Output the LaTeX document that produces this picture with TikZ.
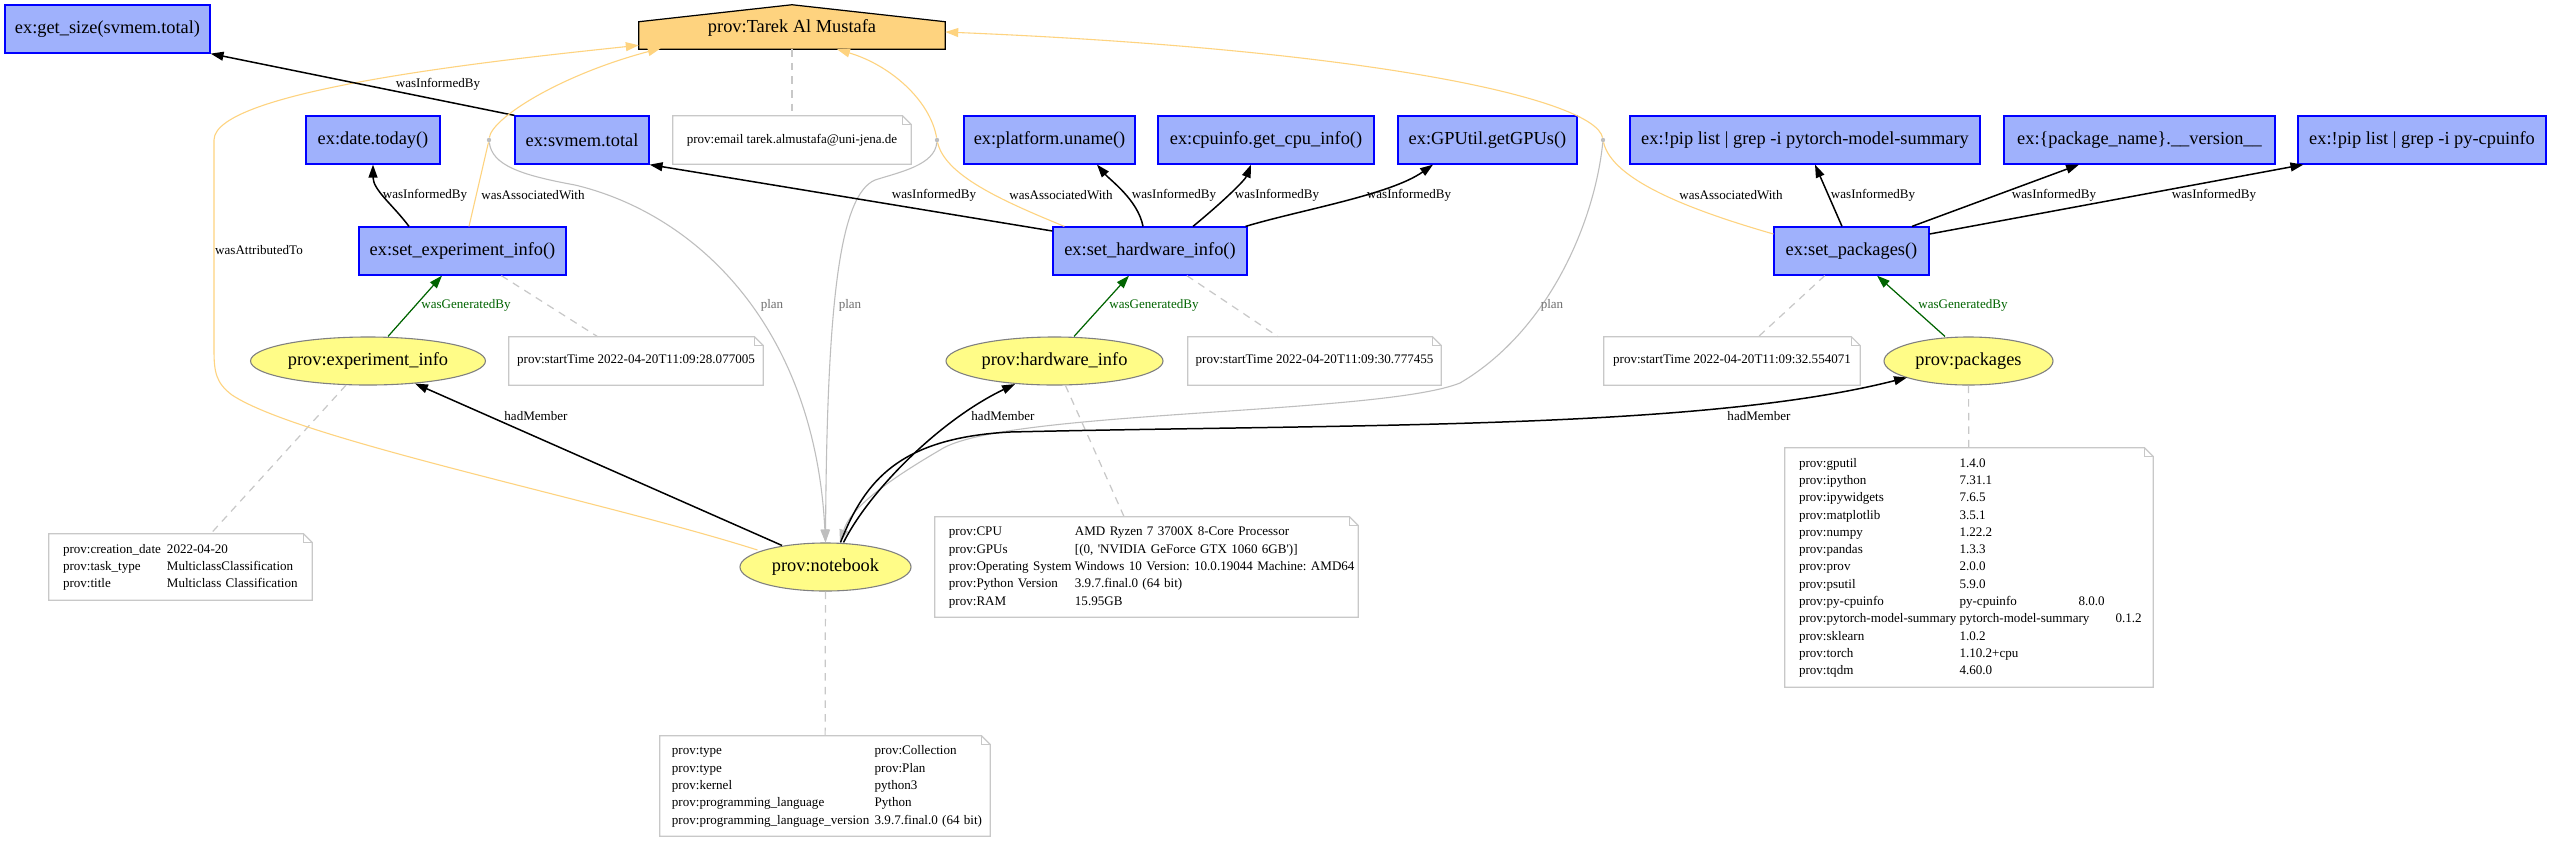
\documentclass[tikz,border=0pt]{standalone}
\usepackage{fontspec}
\setmainfont{Liberation Serif}
\usetikzlibrary{arrows.meta,calc,shapes.geometric,backgrounds}
\frenchspacing
\definecolor{actfill}{HTML}{9FB1FC}
\definecolor{actline}{HTML}{0000FF}
\definecolor{entfill}{HTML}{FFFC87}
\definecolor{entline}{HTML}{808080}
\definecolor{agtfill}{HTML}{FED37F}
\definecolor{assoc}{HTML}{FED37F}
\definecolor{gen}{HTML}{006400}
\definecolor{notegray}{HTML}{C8C8C8}
\definecolor{plangray}{HTML}{BEBEBE}
\definecolor{plantext}{HTML}{707070}
\newcommand{\bigf}{\fontsize{13.5}{16}\selectfont}
\newcommand{\smallf}{\fontsize{9.6}{12.7}\selectfont}
\newcommand{\notefold}[1]{%
  \draw[notegray, line width=0.9pt] (#1.north west) -- ([xshift=-6.5pt]#1.north east) -- ([yshift=-6.5pt]#1.north east) -- (#1.south east) -- (#1.south west) -- cycle;
  \draw[notegray, line width=0.6pt] ([xshift=-6.5pt]#1.north east) |- ([yshift=-6.5pt]#1.north east);}
\tikzset{
  act/.style={draw=actline, fill=actfill, line width=0.9pt, minimum height=35.3pt, inner sep=1pt, font=\bigf},
  ent/.style={ellipse, draw=entline, fill=entfill, line width=0.8pt, minimum height=35.3pt, inner sep=0pt, font=\bigf},
  notebox/.style={inner sep=0pt, font=\smallf, minimum height=35.3pt},
  tablebox/.style={inner ysep=0pt, font=\smallf, align=left},
  dot/.style={circle, fill=plangray, inner sep=0pt, minimum size=3.2pt},
  lbl/.style={font=\smallf, inner sep=1pt, text=black},
  tip/.style={-{Triangle[length=9.5pt,width=6.5pt]}},
  inf/.style={black, line width=1.1pt, tip},
  assocl/.style={assoc, line width=0.8pt},
  assoca/.style={assoc, line width=0.8pt, tip},
  planl/.style={plangray, line width=0.8pt, tip},
  genl/.style={gen, line width=0.9pt, tip},
  annot/.style={notegray, line width=0.9pt, dash pattern=on 5.5pt off 4.5pt},
}
\begin{document}
\begin{tikzpicture}[x=0.735pt, y=-0.735pt]
\useasboundingbox (0,0) rectangle (2551,841);

% activities
\node[act, minimum width=150.7pt] (getsize) at (107.5,29) {ex:get\_size(svmem.total)};
\node[act, minimum width=98.5pt] (datetoday) at (373,140) {ex:date.today()};
\node[act, minimum width=98.5pt] (svmem) at (582,140) {ex:svmem.total};
\node[act, minimum width=125.7pt] (platform) at (1049.5,140) {ex:platform.uname()};
\node[act, minimum width=158.8pt] (cpuinfo) at (1266,140) {ex:cpuinfo.get\_cpu\_info()};
\node[act, minimum width=131.6pt] (gpus) at (1487.5,140) {ex:GPUtil.getGPUs()};
\node[act, minimum width=257.3pt] (pytorch) at (1805,140) {ex:!pip list | grep -i pytorch-model-summary};
\node[act, minimum width=199.2pt] (pkgname) at (2139.5,140) {ex:\{package\_name\}.\_\_version\_\_};
\node[act, minimum width=182.3pt] (pipcpu) at (2422,140) {ex:!pip list | grep -i py-cpuinfo};
\node[act, minimum width=152.1pt] (setexp) at (462.5,251) {ex:set\_experiment\_info()};
\node[act, minimum width=142.6pt] (sethw) at (1150,251) {ex:set\_hardware\_info()};
\node[act, minimum width=113.9pt] (setpkg) at (1851.5,251) {ex:set\_packages()};

% entities
\node[ent, minimum width=172.7pt] (expinfo) at (368,361) {prov:experiment\_info};
\node[ent, minimum width=159.5pt] (hwinfo) at (1054.5,361) {prov:hardware\_info};
\node[ent, minimum width=124.2pt] (pkginfo) at (1968.5,361) {prov:packages};
\node[ent, minimum width=125.7pt] (notebook) at (825.5,567) {prov:notebook};

% agent
\node[font=\bigf, minimum width=224.9pt, minimum height=30.87pt, inner sep=0pt] (tarek) at (792,28) {prov:Tarek Al Mustafa};
\begin{pgfonlayer}{background}
\fill[white] (0,0) rectangle (2551,841);
\filldraw[fill=agtfill, draw=black, line width=0.9pt] (tarek.south west) -- ($(tarek.north west)+(0,15)$) -- ($(tarek.north)+(0,-2)$) -- ($(tarek.north east)+(0,15)$) -- (tarek.south east) -- cycle;
\end{pgfonlayer}

% association points
\node[dot] (p1) at (489,140) {};
\node[dot] (p2) at (937,140) {};
\node[dot] (p3) at (1603,140) {};

% notes
\node[notebox, minimum width=175pt] (email) at (792,140) {prov:email tarek.almustafa@uni-jena.de};
\node[notebox, minimum width=186.7pt] (note1) at (636,361) {prov:startTime 2022-04-20T11:09:28.077005};
\node[notebox, minimum width=186pt] (note2) at (1314.5,361) {prov:startTime 2022-04-20T11:09:30.777455};
\node[notebox, minimum width=188pt] (note3) at (1732,361) {prov:startTime 2022-04-20T11:09:32.554071};

\node[tablebox, text width=172.7pt, inner xsep=10.3pt, minimum height=48.5pt] (exptable) at (180.5,567) {%
\begin{tabular}{@{}p{76.4pt}@{}l@{}}
prov:creation\_date & 2022-04-20\\
prov:task\_type & MulticlassClassification\\
prov:title & Multiclass Classification
\end{tabular}};

\node[tablebox, text width=290.4pt, inner xsep=10.3pt, minimum height=73.5pt] (hwtable) at (1146.5,567) {%
\begin{tabular}{@{}p{92.6pt}@{}l@{}}
prov:CPU & AMD Ryzen 7 3700X 8-Core Processor\\
prov:GPUs & [(0, \textquotesingle NVIDIA GeForce GTX 1060 6GB\textquotesingle)]\\
prov:Operating System & Windows 10 Version: 10.0.19044 Machine: AMD64\\
prov:Python Version & 3.9.7.final.0 (64 bit)\\
prov:RAM & 15.95GB
\end{tabular}};

\node[tablebox, text width=225pt, inner xsep=8.8pt, minimum height=73.5pt] (nbtable) at (825,786) {%
\begin{tabular}{@{}p{149pt}@{}l@{}}
prov:type & prov:Collection\\
prov:type & prov:Plan\\
prov:kernel & python3\\
prov:programming\_language & Python\\
prov:programming\_language\_version & 3.9.7.final.0 (64 bit)
\end{tabular}};

\node[tablebox, text width=249.9pt, inner xsep=10.3pt, minimum height=175.7pt] (pkgtable) at (1969,567.5) {%
\begin{tabular}{@{}p{118pt}@{}l@{}}
prov:gputil & 1.4.0\\
prov:ipython & 7.31.1\\
prov:ipywidgets & 7.6.5\\
prov:matplotlib & 3.5.1\\
prov:numpy & 1.22.2\\
prov:pandas & 1.3.3\\
prov:prov & 2.0.0\\
prov:psutil & 5.9.0\\
prov:py-cpuinfo & \makebox[87.5pt][l]{py-cpuinfo}8.0.0\\
prov:pytorch-model-summary & \makebox[114.7pt][l]{pytorch-model-summary}0.1.2\\
prov:sklearn & 1.0.2\\
prov:torch & 1.10.2+cpu\\
prov:tqdm & 4.60.0
\end{tabular}};

\foreach \n in {email,note1,note2,note3,exptable,hwtable,nbtable,pkgtable} {\notefold{\n}}

% annotation links
\draw[annot] (tarek) -- (email);
\draw[annot] (setexp) -- (note1);
\draw[annot] (sethw) -- (note2);
\draw[annot] (setpkg) -- (note3);
\draw[annot] (expinfo) -- (exptable);
\draw[annot] (hwinfo) -- (hwtable);
\draw[annot] (pkginfo) -- (pkgtable);
\draw[annot] (notebook) -- (nbtable);

% wasAttributedTo
\draw[assoca] ($(notebook.west)+(18,-17)$) .. controls (600,500) and (300,440) .. (232,395)
  .. controls (216,383) and (214,372) .. (214,350) -- (214,140)
  .. controls (214,90) and (500,60) .. ($(tarek.south west)+(0,-4)$)
  node[lbl] at (259,250) {wasAttributedTo};

% plan edges
\draw[planl] (p1) .. controls (492,165) and (520,175) .. (575,185)
  .. controls (700,215) and (815,330) .. (notebook.north)
  node[lbl, text=plantext] at (772,305) {plan};
\draw[planl] (p2) .. controls (935,165) and (900,172) .. (875,180)
  .. controls (840,195) and (827,300) .. (notebook.north)
  node[lbl, text=plantext] at (850,305) {plan};
\draw[planl] (p3) .. controls (1595,220) and (1550,330) .. (1460,383)
  .. controls (1380,415) and (1000,410) .. (940,450)
  .. controls (880,485) and (850,510) .. ($(notebook.north)+(14.5,0)$)
  node[lbl, text=plantext] at (1552,305) {plan};

% hadMember
\draw[inf] ($(notebook.north)+(-43.5,3)$) -- ($(expinfo.south)+(47,-2)$)
  node[lbl] at (536,416) {hadMember};
\draw[inf] ($(notebook.north)+(18,0)$) .. controls (870,490) and (940,420) .. ($(hwinfo.south)+(-39.5,-1.5)$)
  node[lbl] at (1003,416) {hadMember};
\draw[inf] ($(notebook.north)+(15,0)$) .. controls (865,480) and (900,438) .. (1010,432)
  .. controls (1350,424) and (1700,430) .. ($(pkginfo.center)+(-61.5,16.5)$)
  node[lbl] at (1759,416) {hadMember};

% experiment activity
\draw[inf] (svmem.north west) -- (getsize.south east) node[lbl] at (438,84) {wasInformedBy};
\draw[inf] ($(setexp.north)+(-53.5,0)$) .. controls (393,205) and (373,190) .. (datetoday.south)
  node[lbl] at (425,195) {wasInformedBy};
\draw[assocl] ($(setexp.north)+(6.5,0)$) -- (p1) node[lbl] at (533,195) {wasAssociatedWith};
\draw[assoca] (p1) .. controls (492,118) and (560,75) .. ($(tarek.south west)+(22,-1)$);
\draw[genl] ($(expinfo.north)+(20,0)$) -- ($(setexp.south)+(-20.5,0)$)
  node[lbl, text=gen] at (466,305) {wasGeneratedBy};

% hardware activity
\draw[inf] ($(sethw.west)+(0,-20)$) -- (svmem.south east) node[lbl] at (934,195) {wasInformedBy};
\draw[assocl] ($(sethw.north west)+(12,0)$) .. controls (1000,200) and (945,175) .. (p2)
  node[lbl] at (1061,195) {wasAssociatedWith};
\draw[assoca] (p2) .. controls (930,100) and (890,65) .. ($(tarek.south)+(45,0)$);
\draw[inf] ($(sethw.north)+(-7,0)$) .. controls (1138,200) and (1110,180) .. ($(platform.south)+(47.5,0)$)
  node[lbl] at (1174,195) {wasInformedBy};
\draw[inf] ($(sethw.north)+(43,0)$) .. controls (1225,200) and (1245,180) .. ($(cpuinfo.south)+(-15,0)$)
  node[lbl] at (1277,195) {wasInformedBy};
\draw[inf] ($(sethw.north east)+(-2,0)$) .. controls (1300,210) and (1390,195) .. ($(gpus.south)+(-54.5,0)$)
  node[lbl] at (1409,195) {wasInformedBy};
\draw[genl] ($(hwinfo.north)+(19.5,0)$) -- ($(sethw.south)+(-21,0)$)
  node[lbl, text=gen] at (1154,305) {wasGeneratedBy};

% packages activity
\draw[assocl] ($(setpkg.west)+(0,-17)$) .. controls (1690,210) and (1612,180) .. (p3)
  node[lbl] at (1731,195) {wasAssociatedWith};
\draw[assoca] (p3) .. controls (1595,100) and (1380,50) .. ($(tarek.east)+(0,4)$);
\draw[inf] ($(setpkg.north)+(-9.5,0)$) -- ($(pytorch.south)+(10,0)$)
  node[lbl] at (1873,195) {wasInformedBy};
\draw[inf] ($(setpkg.north)+(60.5,0)$) -- ($(pkgname.south)+(-60.5,0)$)
  node[lbl] at (2054,195) {wasInformedBy};
\draw[inf] ($(setpkg.east)+(0,-17)$) -- ($(pipcpu.south west)+(6,0)$)
  node[lbl] at (2214,195) {wasInformedBy};
\draw[genl] ($(pkginfo.north)+(-23.5,0)$) -- ($(setpkg.south)+(25.5,0)$)
  node[lbl, text=gen] at (1963,305) {wasGeneratedBy};
\end{tikzpicture}
\end{document}
